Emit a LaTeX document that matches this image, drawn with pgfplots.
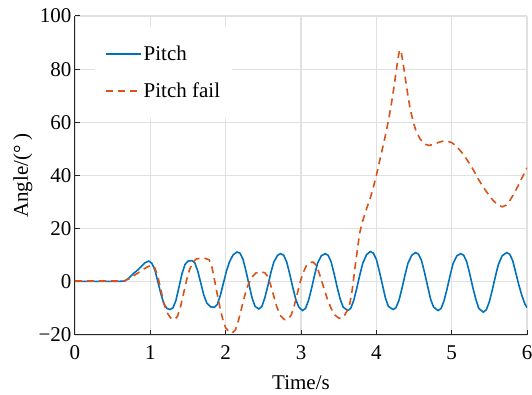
\documentclass[border=0pt]{standalone}
\usepackage{fontspec}
\setmainfont{Liberation Serif}
\usepackage{pgfplots}
\pgfplotsset{compat=1.18}
\definecolor{mblue}{RGB}{0,114,189}
\definecolor{morange}{RGB}{217,83,25}
\definecolor{gridgray}{RGB}{225,225,225}
\definecolor{axisgray}{RGB}{38,38,38}

\begin{document}
\begin{tikzpicture}
\begin{axis}[
  width=452pt, height=319pt, scale only axis,
  xmin=0, xmax=6, ymin=-20, ymax=100,
  xtick={0,1,2,3,4,5,6},
  ytick={-20,0,20,40,60,80,100},
  yticklabels={−20,0,20,40,60,80,100},
  axis x line*=bottom, axis y line*=left,
  axis line style={axisgray, line width=1pt, -},
  tick align=inside, major tick length=5pt,
  tick style={axisgray, line width=1pt},
  grid=major, major grid style={gridgray, line width=1.2pt},
  font=\fontsize{21}{25}\selectfont,
  tick label style={font=\fontsize{21}{25}\selectfont},
  xticklabel style={yshift=-7pt},
  /pgf/number format/assume math mode=true,
  xlabel={Time/s}, ylabel={Angle/(°\ )},
  xlabel style={at={(axis description cs:0.5,-0.1724)}, anchor=base},
  ylabel style={at={(axis description cs:-0.104,0.5)}, anchor=base},
  legend cell align=left,
  legend style={at={(0.044,0.966)}, anchor=north west, draw=none, fill=white,
    font=\fontsize{21}{25}\selectfont, row sep=17pt, inner xsep=10pt, inner ysep=17pt},
  legend image code/.code={\draw[#1] (0pt,0pt) -- (35pt,0pt);},
]
\coordinate (bl) at (rel axis cs:0,0);
\coordinate (tr) at (rel axis cs:1,1);
\addplot[mblue, line width=1.6pt] coordinates {
(0,0.2) (0.3,0.2) (0.6,0.2) (0.66,0.3) (0.72,1.5) (0.78,3.2) (0.83,4.4) (0.88,5.8) (0.93,7.2) (0.98,7.8)
(1.02,7.0) (1.06,4.5) (1.10,0) (1.14,-4.5) (1.18,-8.3) (1.22,-10.0) (1.26,-10.4) (1.30,-9.8) (1.34,-7) (1.38,-2)
(1.42,3) (1.46,6.5) (1.50,7.8) (1.55,8.0) (1.59,7.2) (1.63,4) (1.67,-0.5) (1.71,-5) (1.75,-8) (1.80,-9.4)
(1.85,-9.6) (1.89,-8.5) (1.93,-5) (1.97,-0.5) (2.01,4) (2.05,7.5) (2.10,10.2) (2.15,11.2) (2.19,10.8) (2.23,8.5)
(2.27,4) (2.31,-1) (2.35,-6) (2.39,-9.2) (2.44,-10.2) (2.48,-9.3) (2.52,-6) (2.56,-1.5) (2.60,3.5) (2.64,7.5)
(2.69,10) (2.73,10.6) (2.77,10) (2.81,7.5) (2.85,3) (2.89,-2) (2.93,-6.5) (2.97,-9.5) (3.02,-10.8) (3.06,-10)
(3.10,-7) (3.14,-2.5) (3.18,2.5) (3.22,7) (3.27,9.8) (3.32,10.6) (3.36,10) (3.40,7.5) (3.44,3) (3.48,-2)
(3.52,-6.5) (3.56,-9.5) (3.62,-10.8) (3.66,-10) (3.70,-7) (3.74,-2.5) (3.78,2.5) (3.82,7) (3.87,10.2) (3.92,11.4)
(3.96,10.8) (4.00,8.5) (4.04,4) (4.08,-1) (4.12,-6) (4.16,-9.2) (4.22,-10.4) (4.26,-9.8) (4.30,-7) (4.34,-2.5)
(4.38,2.5) (4.42,7) (4.47,10) (4.52,11) (4.56,10.4) (4.60,8) (4.64,3.5) (4.68,-1.5) (4.72,-6.5) (4.76,-9.5)
(4.82,-10.8) (4.86,-10) (4.90,-7) (4.94,-2.5) (4.98,2.5) (5.02,7) (5.07,9.8) (5.12,10.6) (5.16,10) (5.20,7.5)
(5.24,3) (5.28,-2) (5.32,-6.5) (5.36,-10) (5.42,-11.4) (5.46,-10.5) (5.50,-7.5) (5.54,-3) (5.58,2) (5.62,6.5)
(5.67,9.8) (5.73,11) (5.77,10.4) (5.81,8) (5.85,3.5) (5.89,-1) (5.93,-5) (5.97,-8.2) (6.00,-9.7)
};
\addlegendentry{Pitch}
\addplot[morange, line width=1.6pt, dash pattern=on 7pt off 5pt] coordinates {
(0,0.3) (0.3,0.3) (0.6,0.3) (0.66,0.4) (0.72,1.2) (0.78,2.3) (0.84,3.4) (0.90,4.6) (0.96,5.6) (1.02,6.3)
(1.06,5.2) (1.10,2) (1.14,-3) (1.18,-8) (1.22,-11.5) (1.27,-13.6) (1.32,-14.2) (1.36,-13) (1.40,-9.5) (1.44,-4.5)
(1.48,0.5) (1.52,4.5) (1.56,7.2) (1.61,8.6) (1.67,8.9) (1.73,8.8) (1.78,8.3) (1.81,6.5) (1.84,2.5) (1.88,-3.5)
(1.92,-9) (1.96,-14) (2.00,-17.3) (2.05,-18.9) (2.09,-19.2) (2.13,-18) (2.17,-14.5) (2.21,-10) (2.25,-5.5) (2.29,-1.8)
(2.34,1.5) (2.40,3.3) (2.46,3.8) (2.52,3.4) (2.56,2) (2.60,-1.5) (2.64,-5.5) (2.68,-9.5) (2.73,-12.8) (2.78,-14.2)
(2.83,-14) (2.87,-12.5) (2.91,-9) (2.95,-4.5) (2.99,0) (3.03,3.5) (3.07,6) (3.12,7.3) (3.16,7.4) (3.21,6)
(3.25,2.5) (3.30,-2) (3.35,-6.5) (3.40,-10) (3.45,-12.5) (3.50,-13.6) (3.54,-13.7) (3.58,-12.5) (3.62,-10.5) (3.65,-8)
(3.68,-3) (3.72,6) (3.75,12.5) (3.78,18.5) (3.82,23) (3.87,27.5) (3.92,31.5) (3.96,35.5) (4.00,40) (4.04,45)
(4.08,50) (4.12,55) (4.16,60.5) (4.20,67) (4.23,72.5) (4.26,78.5) (4.29,84.5) (4.31,87.3) (4.33,86.5) (4.36,81.5)
(4.39,75.5) (4.42,70) (4.45,65) (4.49,60) (4.53,56.5) (4.58,53.8) (4.64,51.8) (4.70,51.3) (4.76,51.7) (4.82,52.4)
(4.88,52.9) (4.94,52.9) (5.00,52.4) (5.05,51.3) (5.10,49.8) (5.16,47.8) (5.22,45.2) (5.29,42) (5.35,38.8) (5.42,35.6)
(5.49,32.8) (5.55,30.6) (5.61,29) (5.67,28.2) (5.72,28.8) (5.77,30.5) (5.82,32.8) (5.88,36) (5.94,39.5) (6.00,42.9)
};
\addlegendentry{Pitch fail}
\end{axis}
\pgfresetboundingbox
\path[use as bounding box] ([shift={(-75pt,-60pt)}]bl) rectangle ([shift={(5pt,16pt)}]tr);
\end{tikzpicture}
\end{document}
